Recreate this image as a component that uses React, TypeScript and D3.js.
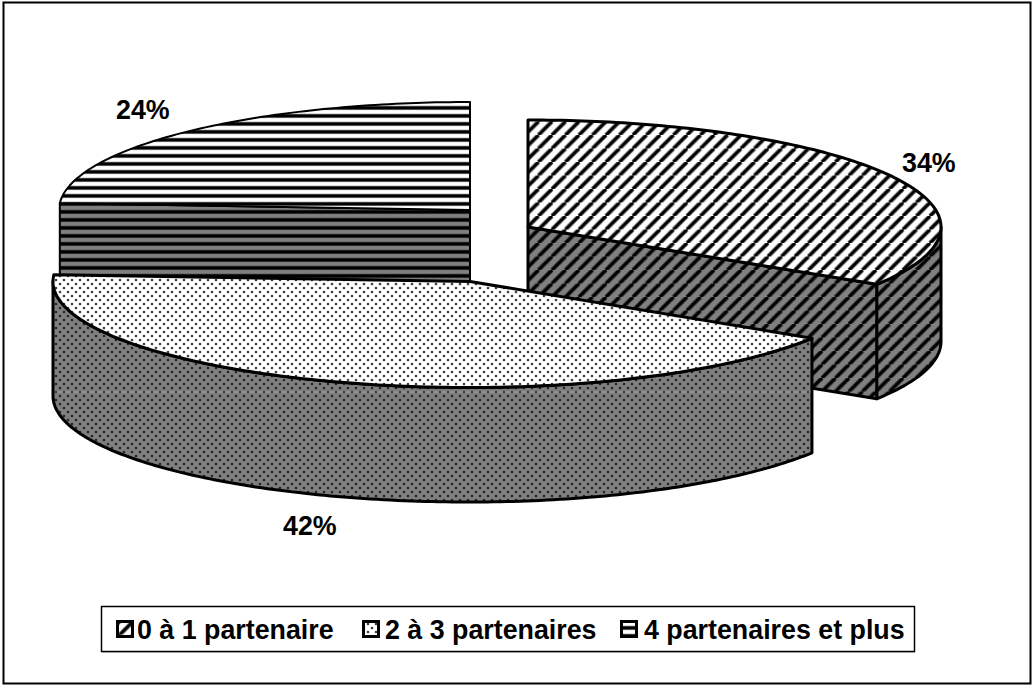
import React from "react";
import * as d3 from "d3";

const categories = ["0 à 1 partenaire", "2 à 3 partenaires", "4 partenaires et plus"];
const values = [34, 42, 24];
const valueLabels = ["34%", "42%", "24%"];

const W = 1035, H = 692;
const DEPTH = 114.5;
const FONT = "'Liberation Sans', Arial, sans-serif";

const geoms = [
  { cx: 528, cy: 227, rxR: 413, rxL: 413, ry: 107, pat: "diag", lx: 902, ly: 172, ix: 116, tx: 137 },
  { cx: 470, cy: 281.5, rxR: 405, rxL: 417, ry: 106, pat: "dots", lx: 283, ly: 535, ix: 362, tx: 385 },
  { cx: 470, cy: 210, rxR: 411, rxL: 411, ry: 108, pat: "hstr", lx: 116, ly: 119, ix: 620, tx: 644 },
];

const pieGen = d3.pie<number>().sort(null).value((d) => d);
const arcs = pieGen(values);

type G = (typeof geoms)[number];
const pt = (g: G, a: number, dy = 0): [number, number] => {
  const s = Math.sin(a);
  return [g.cx + (s >= 0 ? g.rxR : g.rxL) * s, g.cy - g.ry * Math.cos(a) + dy];
};
const sample = (a0: number, a1: number) => {
  const n = Math.max(2, Math.ceil(Math.abs(a1 - a0) * 60));
  return d3.range(n + 1).map((i) => a0 + ((a1 - a0) * i) / n);
};
const line = d3.line();
const closed = (p: [number, number][]) => (line(p) || "") + "Z";

const topPath = (g: G, a0: number, a1: number) =>
  closed([[g.cx, g.cy], ...sample(a0, a1).map((a) => pt(g, a))]);
const wallPath = (g: G, a0: number, a1: number) =>
  closed([...sample(a0, a1).map((a) => pt(g, a)), ...sample(a1, a0).map((a) => pt(g, a, DEPTH))]);
const cutPath = (g: G, a: number) => {
  const p = pt(g, a);
  return closed([[g.cx, g.cy], p, [p[0], p[1] + DEPTH], [g.cx, g.cy + DEPTH]]);
};

const Diag = ({ id, bg }: { id: string; bg: string }) => {
  const P = 13.5;
  return (
    <pattern id={id} width={P} height={P} patternUnits="userSpaceOnUse" x={12}>
      <rect width={P} height={P} fill={bg} />
      {[-P, 0, P].map((o) => (
        <g key={o}>
          <line x1={o} y1={P} x2={o + P} y2={0} stroke="#000" strokeOpacity={0.45} strokeWidth={4.6} />
          <line x1={o} y1={P} x2={o + P} y2={0} stroke="#000" strokeWidth={3} />
        </g>
      ))}
    </pattern>
  );
};
const Dots = ({ id, bg }: { id: string; bg: string }) => {
  const P = 8;
  const pts = [[0, 0], [P, 0], [0, P], [P, P], [P / 2, P / 2]];
  return (
    <pattern id={id} width={P} height={P} patternUnits="userSpaceOnUse">
      <rect width={P} height={P} fill={bg} />
      {pts.map(([x, y], i) => (
        <g key={i}>
          <circle cx={x} cy={y} r={1.6} fill="#000" fillOpacity={0.3} />
          <circle cx={x} cy={y} r={0.95} fill="#111" />
        </g>
      ))}
    </pattern>
  );
};
const HStr = ({ id, bg }: { id: string; bg: string }) => (
  <pattern id={id} width={8} height={8} patternUnits="userSpaceOnUse">
    <rect width={8} height={8} fill={bg} />
    <rect y={1.7} width={8} height={4.4} fill="#000" fillOpacity={0.45} />
    <rect y={2.4} width={8} height={3} fill="#000" />
  </pattern>
);

const Face = ({ d, fill, sw = 3 }: { d: string; fill: string; sw?: number }) => (
  <path d={d} fill={`url(#${fill})`} stroke="#000" strokeWidth={sw} strokeLinejoin="round" />
);

export default function App() {
  const [a1, a2, a3] = arcs;
  const [g1, g2, g3] = geoms;
  return (
    <svg width={W} height={H} style={{ position: "fixed", left: 0, top: 0, background: "#fff" }}>
      <defs>
        <Diag id="diag-top" bg="#fff" />
        <Diag id="diag-wall" bg="#808080" />
        <Dots id="dots-top" bg="#fff" />
        <Dots id="dots-wall" bg="#808080" />
        <HStr id="hstr-top" bg="#fff" />
        <HStr id="hstr-wall" bg="#808080" />
      </defs>

      <rect x={3.5} y={2.5} width={1027} height={681} fill="#fff" stroke="#000" strokeWidth={2} />

      {/* back-left slice */}
      <Face d={cutPath(g3, a3.startAngle)} fill="hstr-wall" sw={2} />
      <Face d={topPath(g3, a3.startAngle, a3.endAngle)} fill="hstr-top" sw={2} />

      {/* right slice */}
      <Face d={wallPath(g1, Math.PI / 2, a1.endAngle)} fill="diag-wall" />
      <Face d={cutPath(g1, a1.endAngle)} fill="diag-wall" />
      <Face d={topPath(g1, a1.startAngle, a1.endAngle)} fill="diag-top" />

      {/* front slice */}
      <Face d={wallPath(g2, a2.startAngle, (3 * Math.PI) / 2)} fill="dots-wall" />
      <line x1={55} x2={811} y1={392} y2={392} stroke="#fff" strokeOpacity={0.25} />
      <Face d={topPath(g2, a2.startAngle, a2.endAngle)} fill="dots-top" />

      {/* value labels */}
      {geoms.map((g, i) => (
        <text key={i} x={g.lx} y={g.ly} fontFamily={FONT} fontWeight={700} fontSize={26.8} fill="#000">
          {valueLabels[i]}
        </text>
      ))}

      {/* legend */}
      <rect x={101.5} y={606.5} width={813} height={45} fill="#fff" stroke="#000" strokeWidth={1.5} />
      <line x1={102} x2={915} y1={652.5} y2={652.5} stroke="#999" />
      {categories.map((c, i) => {
        const g = geoms[i];
        return (
          <g key={c}>
            <rect x={g.ix + 1.5} y={621.5} width={15} height={15} fill={`url(#${g.pat}-top)`} stroke="#000" strokeWidth={3} />
            <text x={g.tx} y={639} fontFamily={FONT} fontWeight={700} fontSize={26.8} fill="#000">
              {c}
            </text>
          </g>
        );
      })}
    </svg>
  );
}
